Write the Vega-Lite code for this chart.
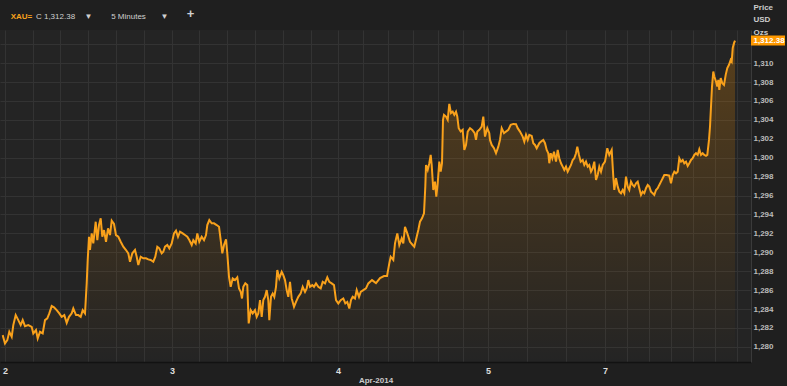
{
  "$schema": "https://vega.github.io/schema/vega-lite/v6.json",
  "width": 751,
  "height": 332,
  "autosize": {"type": "none"},
  "padding": {"left": 0, "top": 30, "right": 36, "bottom": 24},
  "background": "#1f1f1f",
  "config": {"view": {"stroke": null, "fill": "#242424"}, "font": "Liberation Sans"},
  "datasets": {
    "xau": [
      {"bar":2.7,"price":1281.24},{"bar":5,"price":1280.36},{"bar":7.3,"price":1280.71},{"bar":9.3,"price":1281.59},{"bar":11.7,"price":1281.06},{"bar":13.3,"price":1282.30},{"bar":15.7,"price":1283.36},{"bar":18.3,"price":1282.83},{"bar":20.7,"price":1282.30},{"bar":22.7,"price":1282.83},{"bar":25,"price":1282.19},{"bar":28.3,"price":1282.30},{"bar":31.7,"price":1282.12},{"bar":33.3,"price":1281.42},{"bar":36,"price":1281.77},{"bar":37.7,"price":1280.89},{"bar":40,"price":1281.59},{"bar":42.7,"price":1281.42},{"bar":45,"price":1282.83},{"bar":47.3,"price":1283.01},{"bar":49.3,"price":1283.54},{"bar":51.7,"price":1284.31},{"bar":54,"price":1284.17},{"bar":56.7,"price":1283.88},{"bar":59.3,"price":1283.54},{"bar":61.7,"price":1283.18},{"bar":64.3,"price":1283.36},{"bar":66.7,"price":1282.54},{"bar":69,"price":1283.18},{"bar":71.7,"price":1283.54},{"bar":73.3,"price":1284.06},{"bar":76,"price":1283.36},{"bar":78.3,"price":1283.36},{"bar":80.7,"price":1283.18},{"bar":82.7,"price":1283.88},{"bar":85,"price":1283.54},{"bar":86.7,"price":1286.71},{"bar":87.7,"price":1289.18},{"bar":89,"price":1291.64},{"bar":90,"price":1290.24},{"bar":91.7,"price":1292.00},{"bar":93.3,"price":1290.94},{"bar":95.7,"price":1293.23},{"bar":97.3,"price":1291.29},{"bar":99,"price":1292.88},{"bar":100.7,"price":1293.59},{"bar":102.3,"price":1291.64},{"bar":104,"price":1292.35},{"bar":106,"price":1291.11},{"bar":108,"price":1292.53},{"bar":110,"price":1291.82},{"bar":111.7,"price":1293.34},{"bar":114,"price":1292.99},{"bar":116,"price":1291.82},{"bar":118.3,"price":1291.64},{"bar":120.7,"price":1291.11},{"bar":123.3,"price":1290.59},{"bar":126,"price":1290.24},{"bar":128.3,"price":1289.89},
      {"bar":130,"price":1289.00},{"bar":132.3,"price":1289.89},{"bar":135,"price":1290.24},{"bar":136.7,"price":1289.53},{"bar":138.3,"price":1288.65},{"bar":140.7,"price":1289.53},{"bar":143.3,"price":1289.36},{"bar":146,"price":1289.36},{"bar":148.3,"price":1289.25},{"bar":150.7,"price":1289.18},{"bar":153.3,"price":1289.00},{"bar":155.3,"price":1289.53},{"bar":157.3,"price":1290.59},{"bar":159.3,"price":1290.42},{"bar":161.7,"price":1289.89},{"bar":163.3,"price":1290.06},{"bar":165,"price":1290.59},{"bar":167.3,"price":1290.77},{"bar":169.3,"price":1290.42},{"bar":171.7,"price":1290.94},{"bar":174,"price":1292.00},{"bar":176,"price":1292.28},{"bar":178,"price":1291.64},{"bar":180,"price":1292.17},{"bar":182.7,"price":1292.00},{"bar":185,"price":1291.82},{"bar":187.3,"price":1291.64},{"bar":189.3,"price":1291.29},{"bar":191.7,"price":1290.77},{"bar":193.3,"price":1291.29},{"bar":195.7,"price":1290.94},{"bar":197.3,"price":1292.00},{"bar":199.3,"price":1291.11},{"bar":201.7,"price":1291.64},{"bar":204,"price":1291.29},{"bar":206,"price":1291.82},{"bar":207.3,"price":1292.88},{"bar":209.3,"price":1293.41},{"bar":211.7,"price":1293.06},{"bar":214,"price":1293.06},{"bar":216.7,"price":1292.88},{"bar":219,"price":1292.70},{"bar":220.7,"price":1291.29},{"bar":222.3,"price":1289.89},{"bar":224,"price":1290.77},{"bar":226,"price":1291.37},{"bar":227.3,"price":1289.89},{"bar":229,"price":1287.41},{"bar":230.7,"price":1286.35},{"bar":232.7,"price":1287.24},{"bar":235,"price":1287.06},{"bar":237.3,"price":1287.35},{"bar":239,"price":1286.18},{"bar":240.7,"price":1285.82},{"bar":242,"price":1285.12},{"bar":243.3,"price":1286.35},{"bar":245.3,"price":1286.71},{"bar":247.3,"price":1286.53},{"bar":248.7,"price":1282.48},
      {"bar":250.7,"price":1283.88},{"bar":252.7,"price":1283.54},{"bar":255,"price":1283.88},{"bar":256.7,"price":1283.18},{"bar":258.3,"price":1283.54},{"bar":260,"price":1284.94},{"bar":261.7,"price":1283.18},{"bar":263.3,"price":1284.94},{"bar":265,"price":1285.29},{"bar":266.7,"price":1286.00},{"bar":268.3,"price":1284.94},{"bar":269.3,"price":1282.83},{"bar":271,"price":1285.29},{"bar":272.7,"price":1285.65},{"bar":274.3,"price":1285.29},{"bar":276,"price":1286.35},{"bar":277.3,"price":1288.12},{"bar":279.3,"price":1287.24},{"bar":281.7,"price":1287.94},{"bar":283.3,"price":1287.59},{"bar":285,"price":1287.06},{"bar":286.7,"price":1286.00},{"bar":288.3,"price":1285.29},{"bar":290,"price":1286.88},{"bar":291.7,"price":1285.12},{"bar":294,"price":1284.23},{"bar":296,"price":1284.76},{"bar":298.3,"price":1285.29},{"bar":300.7,"price":1285.65},{"bar":302.7,"price":1286.35},{"bar":305,"price":1285.82},{"bar":306.7,"price":1286.18},{"bar":308.3,"price":1287.06},{"bar":310,"price":1286.35},{"bar":312.3,"price":1286.53},{"bar":314,"price":1286.35},{"bar":316,"price":1286.71},{"bar":318.3,"price":1286.35},{"bar":320.7,"price":1286.18},{"bar":322.7,"price":1286.88},{"bar":325,"price":1286.71},{"bar":327.3,"price":1287.35},{"bar":329.3,"price":1286.88},{"bar":331.7,"price":1286.71},{"bar":334,"price":1286.53},{"bar":336,"price":1284.94},{"bar":338.3,"price":1284.59},{"bar":340.7,"price":1284.94},{"bar":343.3,"price":1285.12},{"bar":345.3,"price":1284.59},{"bar":347.3,"price":1284.76},{"bar":349.3,"price":1284.06},{"bar":351,"price":1284.94},{"bar":352.7,"price":1285.29},{"bar":355,"price":1285.12},{"bar":356.7,"price":1286.00},{"bar":359,"price":1285.29},{"bar":360.7,"price":1285.82},{"bar":363.3,"price":1286.00},{"bar":366,"price":1286.18},{"bar":368.3,"price":1286.71},{"bar":372,"price":1287.06},{"bar":376,"price":1286.74},{"bar":380,"price":1287.27},{"bar":384,"price":1287.48},{"bar":387,"price":1287.48},
      {"bar":389.3,"price":1288.83},{"bar":390.7,"price":1289.53},{"bar":393.3,"price":1289.18},{"bar":395,"price":1290.94},{"bar":397.3,"price":1292.00},{"bar":399.3,"price":1290.77},{"bar":401.7,"price":1291.47},{"bar":403.3,"price":1290.94},{"bar":405,"price":1292.70},{"bar":407.3,"price":1292.00},{"bar":410,"price":1291.11},{"bar":412.7,"price":1290.77},{"bar":414.3,"price":1290.59},{"bar":416.7,"price":1291.64},{"bar":418.3,"price":1292.35},{"bar":420,"price":1293.23},{"bar":422,"price":1293.59},{"bar":424,"price":1294.12},{"bar":425.3,"price":1296.94},{"bar":426,"price":1299.23},{"bar":427.7,"price":1298.70},{"bar":429.3,"price":1299.41},{"bar":430.7,"price":1300.29},{"bar":431.7,"price":1299.23},{"bar":433.3,"price":1296.59},{"bar":435,"price":1297.47},{"bar":436.3,"price":1295.88},{"bar":437.7,"price":1297.30},{"bar":439.3,"price":1299.58},{"bar":440.7,"price":1298.52},{"bar":442,"price":1299.41},{"bar":443,"price":1304.00},{"bar":444,"price":1304.53},{"bar":446,"price":1304.35},{"bar":447.7,"price":1304.00},{"bar":449.3,"price":1305.69},{"bar":451,"price":1304.71},{"bar":452.7,"price":1304.87},{"bar":454.3,"price":1304.53},{"bar":456,"price":1304.87},{"bar":457.3,"price":1304.35},{"bar":458.7,"price":1303.12},{"bar":460.7,"price":1302.76},{"bar":462.7,"price":1302.94},{"bar":464.3,"price":1300.82},{"bar":466,"price":1301.35},{"bar":467.7,"price":1302.76},{"bar":470,"price":1303.12},{"bar":472.3,"price":1302.94},{"bar":474.7,"price":1302.59},{"bar":476,"price":1301.88},{"bar":477.3,"price":1302.76},{"bar":479.3,"price":1302.94},{"bar":481.7,"price":1303.29},{"bar":483.3,"price":1304.35},{"bar":485,"price":1302.23},{"bar":487.3,"price":1303.12},{"bar":489.3,"price":1302.59},
      {"bar":490,"price":1301.88},{"bar":491.7,"price":1301.35},{"bar":494,"price":1301.00},{"bar":496,"price":1300.47},{"bar":498.3,"price":1301.17},{"bar":500,"price":1301.88},{"bar":501.7,"price":1303.12},{"bar":504,"price":1302.59},{"bar":506,"price":1302.76},{"bar":508.3,"price":1302.94},{"bar":510.7,"price":1303.47},{"bar":513.3,"price":1303.57},{"bar":516,"price":1303.54},{"bar":517.7,"price":1303.12},{"bar":520,"price":1302.76},{"bar":522.7,"price":1302.23},{"bar":524.3,"price":1301.70},{"bar":526,"price":1302.41},{"bar":527.7,"price":1301.88},{"bar":529.3,"price":1302.41},{"bar":531.7,"price":1302.30},{"bar":533.3,"price":1301.53},{"bar":535,"price":1301.35},{"bar":536.7,"price":1301.00},{"bar":539.3,"price":1301.53},{"bar":541,"price":1301.70},{"bar":543.3,"price":1301.88},{"bar":545,"price":1301.53},{"bar":546.7,"price":1300.82},{"bar":548.3,"price":1300.47},{"bar":549.3,"price":1299.41},{"bar":550.7,"price":1300.47},{"bar":552.3,"price":1299.94},{"bar":554,"price":1300.64},{"bar":556,"price":1299.58},{"bar":557.7,"price":1300.82},{"bar":559.3,"price":1299.94},{"bar":561,"price":1299.41},{"bar":562.7,"price":1299.05},{"bar":564.3,"price":1298.70},{"bar":566,"price":1299.05},{"bar":567.7,"price":1298.52},{"bar":569.3,"price":1298.88},{"bar":571,"price":1299.23},{"bar":572.7,"price":1299.76},{"bar":574.3,"price":1299.94},{"bar":576,"price":1300.47},{"bar":577.3,"price":1301.17},{"bar":579,"price":1300.29},{"bar":580.7,"price":1299.58},{"bar":582.7,"price":1299.76},{"bar":584.3,"price":1299.23},{"bar":586,"price":1299.58},{"bar":587.7,"price":1299.05},{"bar":589.3,"price":1299.23},{"bar":591,"price":1298.52},{"bar":592.7,"price":1298.88},{"bar":594.3,"price":1299.58},{"bar":596,"price":1297.65},{"bar":597.7,"price":1298.17},{"bar":599.3,"price":1299.05},{"bar":601,"price":1298.52},{"bar":602.7,"price":1299.23},{"bar":605,"price":1299.58},{"bar":607.3,"price":1301.00},{"bar":609.3,"price":1300.29},{"bar":611.7,"price":1300.82},
      {"bar":613.3,"price":1297.99},{"bar":614.3,"price":1296.59},{"bar":616,"price":1297.83},{"bar":617.7,"price":1296.94},{"bar":619.3,"price":1296.41},{"bar":621,"price":1296.24},{"bar":622.7,"price":1296.59},{"bar":624.3,"price":1296.24},{"bar":626,"price":1297.99},{"bar":627.7,"price":1296.94},{"bar":629.3,"price":1296.59},{"bar":631,"price":1297.47},{"bar":632.7,"price":1297.12},{"bar":634.3,"price":1296.94},{"bar":636,"price":1297.30},{"bar":637.7,"price":1297.47},{"bar":639.3,"price":1296.77},{"bar":641,"price":1296.06},{"bar":642.7,"price":1296.41},{"bar":644.3,"price":1296.24},{"bar":646,"price":1296.77},{"bar":647.7,"price":1297.12},{"bar":649.3,"price":1296.94},{"bar":651,"price":1296.41},{"bar":652.7,"price":1296.24},{"bar":654.3,"price":1296.06},{"bar":656,"price":1296.59},{"bar":657.7,"price":1296.77},{"bar":659.3,"price":1297.12},{"bar":661,"price":1297.47},{"bar":662.7,"price":1297.83},{"bar":664.3,"price":1298.17},{"bar":666.7,"price":1298.17},{"bar":669.3,"price":1298.10},{"bar":671,"price":1297.30},{"bar":672.7,"price":1298.17},{"bar":674.3,"price":1298.52},{"bar":676,"price":1298.35},{"bar":677.7,"price":1298.52},{"bar":679.3,"price":1299.94},{"bar":681,"price":1299.58},{"bar":682.7,"price":1299.76},{"bar":684.3,"price":1299.41},{"bar":686,"price":1299.58},{"bar":687.7,"price":1299.13},{"bar":689.3,"price":1299.41},{"bar":691,"price":1299.76},{"bar":692.7,"price":1299.94},{"bar":694.3,"price":1300.29},{"bar":696,"price":1300.47},{"bar":697.7,"price":1300.29},{"bar":699.3,"price":1300.89},{"bar":701,"price":1300.29},{"bar":702.7,"price":1300.47},{"bar":704.3,"price":1300.29},{"bar":706,"price":1300.19},{"bar":707.3,"price":1300.29},{"bar":709,"price":1301.88},{"bar":710,"price":1303.29},{"bar":711,"price":1305.40},{"bar":712,"price":1307.52},{"bar":713.3,"price":1309.11},{"bar":714.3,"price":1308.58},{"bar":716,"price":1308.05},{"bar":717.3,"price":1307.52},{"bar":718.3,"price":1308.23},{"bar":719.3,"price":1307.17},{"bar":720.7,"price":1308.41},{"bar":722.3,"price":1307.88},{"bar":724,"price":1307.70},{"bar":725.7,"price":1308.76},{"bar":727.3,"price":1309.47},{"bar":729,"price":1309.82},{"bar":730.7,"price":1310.35},{"bar":731.7,"price":1310.17},{"bar":732.7,"price":1311.59},{"bar":734,"price":1312.11},{"bar":735,"price":1312.38}
    ],
    "last": [{"bar": 735, "price": 1312.38, "label": "1,312.38"}]
  },
  "encoding": {
    "y": {
      "field": "price", "type": "quantitative", "stack": null,
      "scale": {"domain": [1278.4, 1313.5], "nice": false, "zero": false},
      "axis": {
        "orient": "right",
        "values": [1280, 1282, 1284, 1286, 1288, 1290, 1292, 1294, 1296, 1298, 1300, 1302, 1304, 1306, 1308, 1310, 1312],
        "format": ",d",
        "labelExpr": "datum.value == 1312 ? '' : datum.label",
        "grid": true, "gridColor": "#333333",
        "ticks": false, "domain": true, "domainColor": "#3a3a3a",
        "labelPadding": 2, "labelFontSize": 8, "labelFontWeight": "bold", "labelColor": "#bbbbbb", "labelAlign": "left",
        "title": ["Price", "USD", "Ozs"], "titleAngle": 0, "titleAlign": "left", "titleBaseline": "top",
        "titleX": 2, "titleY": -27, "titleFontSize": 8, "titleFontWeight": "bold", "titleColor": "#cccccc", "titleLineHeight": 12.5
      }
    }
  },
  "layer": [
    {
      "data": {"name": "xau"},
      "mark": {
        "type": "area",
        "orient": "vertical",
        "y2": "height",
        "color": {
          "gradient": "linear",
          "x1": 0, "y1": 0, "x2": 0, "y2": 1,
          "stops": [
            {"offset": 0, "color": "rgba(255,150,0,0.24)"},
            {"offset": 1, "color": "rgba(255,150,0,0.0)"}
          ]
        }
      },
      "encoding": {
        "x": {"field": "bar", "type": "quantitative", "scale": {"domain": [0, 751], "nice": false, "zero": false}, "axis": null}
      }
    },
    {
      "data": {"name": "xau"},
      "mark": {"type": "line", "color": "#f9a11b", "strokeWidth": 2},
      "encoding": {
        "x": {
          "field": "bar", "type": "quantitative",
          "axis": {
            "orient": "bottom",
            "values": [5, 33, 60, 88, 116, 144, 172, 199, 227, 255, 283, 311, 338, 363, 388, 413, 438, 463, 488, 527, 566, 605, 627, 649, 671, 693, 715, 737],
            "labelExpr": "datum.value == 5 ? '2' : datum.value == 172 ? '3' : datum.value == 338 ? '4' : datum.value == 488 ? '5' : datum.value == 605 ? '7' : ''",
            "grid": true, "gridColor": "#333333", "gridWidth": 1,
            "ticks": false, "domain": true, "domainColor": "#121212", "domainWidth": 1.5,
            "labelPadding": 4, "labelFontSize": 9, "labelFontWeight": "bold", "labelColor": "#dddddd",
            "labelOverlap": false, "labelFlush": false, "labelBound": false,
            "title": "Apr-2014", "titleFontSize": 8, "titleFontWeight": "bold", "titleColor": "#cccccc", "titlePadding": 1
          }
        }
      }
    },
    {
      "data": {"name": "last"},
      "mark": {"type": "rect", "width": 34, "height": 10, "xOffset": 33, "color": "#ff9900", "clip": false},
      "encoding": {
        "x": {"field": "bar", "type": "quantitative", "axis": null}
      }
    },
    {
      "data": {"name": "last"},
      "mark": {"type": "text", "dx": 34, "align": "center", "baseline": "middle", "fontSize": 8, "fontWeight": "bold", "color": "#ffffff", "clip": false},
      "encoding": {
        "x": {
          "field": "bar", "type": "quantitative",
          "axis": {
            "orient": "top",
            "values": [21, 55, 88, 128, 164, 190],
            "labelExpr": "datum.value == 21 ? 'XAU=' : datum.value == 55 ? 'C 1,312.38' : datum.value == 128 ? '5 Minutes' : datum.value == 190 ? '+' : '▼'",
            "grid": false, "ticks": false, "domain": false, "title": null,
            "labelPadding": 10, "labelOverlap": false, "labelFlush": false, "labelBound": false,
            "labelFontSize": {"condition": {"test": "datum.value == 190", "value": 13}, "value": 8},
            "labelFontWeight": {"condition": {"test": "datum.value == 55 || datum.value == 128", "value": "normal"}, "value": "bold"},
            "labelColor": {"condition": {"test": "datum.value == 21", "value": "#f7a21b"}, "value": "#d0d0d0"}
          }
        },
        "text": {"field": "label"}
      }
    }
  ],
  "resolve": {"axis": {"x": "independent"}}
}
